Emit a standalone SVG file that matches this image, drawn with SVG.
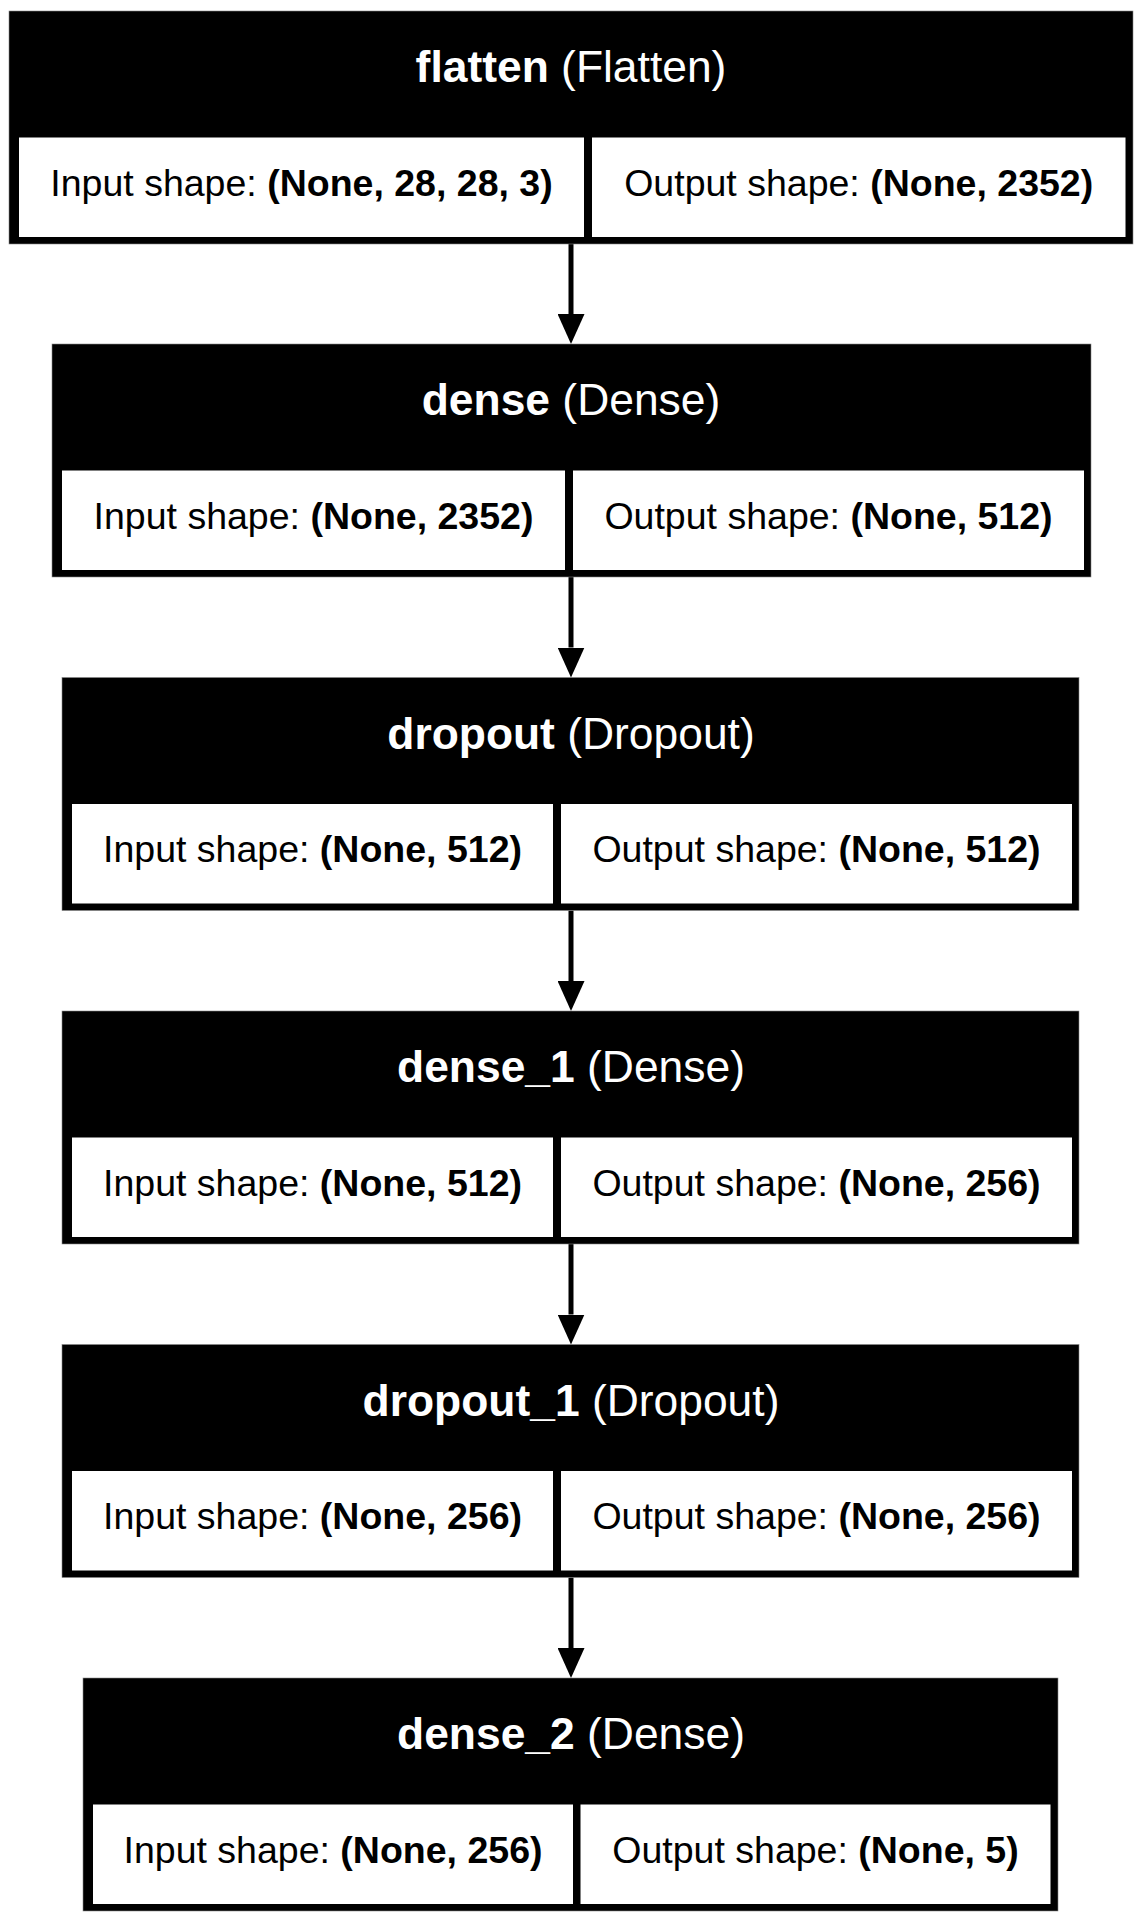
<svg xmlns="http://www.w3.org/2000/svg" width="1142" height="1922" viewBox="0 0 1142 1922">
<style>
.outer{fill:#000;stroke:#888;stroke-width:0.6}
.cell{fill:#fff}
.title{font-family:"Liberation Sans",Arial,sans-serif;font-size:44.4px;fill:#fff;text-anchor:middle}
.lbl{font-family:"Liberation Sans",Arial,sans-serif;font-size:37.5px;fill:#000;text-anchor:middle}
.b{font-weight:bold}
.edge{stroke:#000;stroke-width:5;fill:none}
</style>
<defs>
<marker id="ah" markerUnits="userSpaceOnUse" viewBox="0 0 30 27" refX="0" refY="13.5" markerWidth="30" markerHeight="27" orient="auto">
<path d="M0,0 L30,13.5 L0,27 Z" fill="#000"/>
</marker>
</defs>
<rect width="1142" height="1922" fill="#fff"/>
<g id="connectors">
<line class="edge" x1="571" y1="244" x2="571" y2="314" marker-end="url(#ah)"/>
<line class="edge" x1="571" y1="577" x2="571" y2="647.5" marker-end="url(#ah)"/>
<line class="edge" x1="571" y1="910.5" x2="571" y2="981" marker-end="url(#ah)"/>
<line class="edge" x1="571" y1="1244" x2="571" y2="1314.5" marker-end="url(#ah)"/>
<line class="edge" x1="571" y1="1577.5" x2="571" y2="1648" marker-end="url(#ah)"/>
</g>
<g id="flatten">
<rect class="outer" x="9" y="11" width="1124" height="233"/>
<rect class="cell" x="19" y="137.5" width="565" height="99.5"/>
<rect class="cell" x="592" y="137.5" width="533.5" height="99.5"/>
<text class="title" x="571" y="82"><tspan class="b">flatten</tspan><tspan> (Flatten)</tspan></text>
<text class="lbl" x="301.5" y="195.5"><tspan>Input shape: </tspan><tspan class="b">(None, 28, 28, 3)</tspan></text>
<text class="lbl" x="858.7" y="195.5"><tspan>Output shape: </tspan><tspan class="b">(None, 2352)</tspan></text>
</g>
<g id="dense">
<rect class="outer" x="52" y="344" width="1039" height="233"/>
<rect class="cell" x="62" y="470.5" width="503" height="99.5"/>
<rect class="cell" x="573" y="470.5" width="511" height="99.5"/>
<text class="title" x="571" y="415"><tspan class="b">dense</tspan><tspan> (Dense)</tspan></text>
<text class="lbl" x="313.5" y="528.5"><tspan>Input shape: </tspan><tspan class="b">(None, 2352)</tspan></text>
<text class="lbl" x="828.5" y="528.5"><tspan>Output shape: </tspan><tspan class="b">(None, 512)</tspan></text>
</g>
<g id="dropout">
<rect class="outer" x="62" y="677.5" width="1017" height="233"/>
<rect class="cell" x="72" y="804" width="481" height="99.5"/>
<rect class="cell" x="561" y="804" width="511" height="99.5"/>
<text class="title" x="571" y="748.5"><tspan class="b">dropout</tspan><tspan> (Dropout)</tspan></text>
<text class="lbl" x="312.5" y="862"><tspan>Input shape: </tspan><tspan class="b">(None, 512)</tspan></text>
<text class="lbl" x="816.5" y="862"><tspan>Output shape: </tspan><tspan class="b">(None, 512)</tspan></text>
</g>
<g id="dense_1">
<rect class="outer" x="62" y="1011" width="1017" height="233"/>
<rect class="cell" x="72" y="1137.5" width="481" height="99.5"/>
<rect class="cell" x="561" y="1137.5" width="511" height="99.5"/>
<text class="title" x="571" y="1082"><tspan class="b">dense_1</tspan><tspan> (Dense)</tspan></text>
<text class="lbl" x="312.5" y="1195.5"><tspan>Input shape: </tspan><tspan class="b">(None, 512)</tspan></text>
<text class="lbl" x="816.5" y="1195.5"><tspan>Output shape: </tspan><tspan class="b">(None, 256)</tspan></text>
</g>
<g id="dropout_1">
<rect class="outer" x="62" y="1344.5" width="1017" height="233"/>
<rect class="cell" x="72" y="1471" width="481" height="99.5"/>
<rect class="cell" x="561" y="1471" width="511" height="99.5"/>
<text class="title" x="571" y="1415.5"><tspan class="b">dropout_1</tspan><tspan> (Dropout)</tspan></text>
<text class="lbl" x="312.5" y="1529"><tspan>Input shape: </tspan><tspan class="b">(None, 256)</tspan></text>
<text class="lbl" x="816.5" y="1529"><tspan>Output shape: </tspan><tspan class="b">(None, 256)</tspan></text>
</g>
<g id="dense_2">
<rect class="outer" x="83" y="1678" width="975" height="233"/>
<rect class="cell" x="93" y="1804.5" width="480" height="99.5"/>
<rect class="cell" x="580.5" y="1804.5" width="470" height="99.5"/>
<text class="title" x="571" y="1749"><tspan class="b">dense_2</tspan><tspan> (Dense)</tspan></text>
<text class="lbl" x="333" y="1862.5"><tspan>Input shape: </tspan><tspan class="b">(None, 256)</tspan></text>
<text class="lbl" x="815.5" y="1862.5"><tspan>Output shape: </tspan><tspan class="b">(None, 5)</tspan></text>
</g>
</svg>
